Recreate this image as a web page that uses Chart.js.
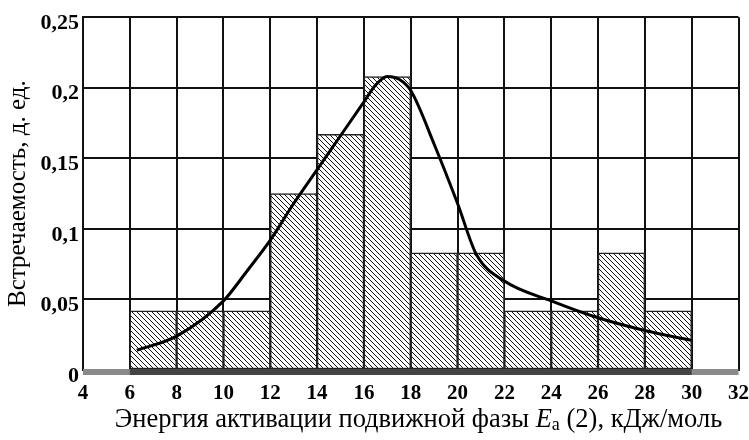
<!DOCTYPE html>
<html>
<head>
<meta charset="utf-8">
<script src="https://cdn.jsdelivr.net/npm/chart.js@4.4.1/dist/chart.umd.min.js"></script>
<style>
  body { margin: 0; background: #fff; overflow: hidden; }
  #wrap { position: relative; width: 749px; height: 440px; overflow: hidden; }
  #xTitle {
    position: absolute; top: 403px; left: 0; width: 749px;
    padding-left: 88px; box-sizing: border-box;
    text-align: center; white-space: nowrap;
    font-family: "Liberation Serif", serif; font-size: 26.5px; color: #000;
  }
  #xTitle sub { font-size: 18px; vertical-align: -3px; line-height: 0; }
</style>
</head>
<body>
<div id="wrap">
  <!-- canvas is a bit wider than the window so the "32" label can run off the edge like in the original -->
  <canvas id="histChart" width="760" height="440"></canvas>
  <div id="xTitle">Энергия активации подвижной фазы <i>E</i><sub>а</sub> (2), кДж/моль</div>
</div>
<script>
// histogram bins (left edges, width 2 kJ/mol) and frequencies
const binStart = [6, 8, 10, 12, 14, 16, 18, 20, 22, 24, 26, 28];
const binWidth = 2;
const freq = [0.042, 0.042, 0.042, 0.125, 0.167, 0.208, 0.083, 0.083, 0.042, 0.042, 0.083, 0.042];

// smooth distribution curve
const curveX = [6.3, 8, 10, 11, 12, 13, 14, 15, 16, 16.5, 17, 17.5, 18, 19, 20, 20.8, 22, 24, 26, 28, 30];
const curveY = [0.014, 0.024, 0.049, 0.07, 0.092, 0.118, 0.142, 0.166, 0.19, 0.202, 0.208, 0.206, 0.198, 0.16, 0.118, 0.082, 0.063, 0.049, 0.037, 0.028, 0.021];

// axis ranges
const xMin = 4, xMax = 32, xStep = 2;
const yMin = 0, yMax = 0.25, yStep = 0.05;

const serif = "'Liberation Serif', 'Times New Roman', serif";

function hatchPattern() {
    const s = 5;
    const c = document.createElement("canvas");
    c.width = s; c.height = s;
    const g = c.getContext("2d");
    g.fillStyle = "#fff";
    g.fillRect(0, 0, s, s);
    g.strokeStyle = "#111";
    g.lineWidth = 1;
    g.beginPath();
    g.moveTo(0, 0); g.lineTo(s, s);
    g.moveTo(s - 1, -1); g.lineTo(s + 1, 1);
    g.moveTo(-1, s - 1); g.lineTo(1, s + 1);
    g.stroke();
    return g.createPattern(c, "repeat");
}

// gray strip along the bottom axis, darker under the bars
const baseStrip = {
    id: "baseStrip",
    afterDraw(chart) {
        const { ctx, chartArea, scales } = chart;
        const x = scales.x;
        const y0 = chartArea.bottom - 1;
        ctx.save();
        ctx.fillStyle = "#8a8a8a";
        ctx.fillRect(x.getPixelForValue(xMin), y0, x.getPixelForValue(xMax) - x.getPixelForValue(xMin), 6);
        const a = x.getPixelForValue(binStart[0]);
        const b = x.getPixelForValue(binStart[binStart.length - 1] + binWidth);
        ctx.fillStyle = "#444";
        ctx.fillRect(a, y0, b - a, 6);
        ctx.restore();
    }
};

new Chart(document.getElementById("histChart"), {
    type: "bar",
    data: {
        datasets: [{
            type: "line",
            data: curveX.map((v, i) => ({ x: v, y: curveY[i] })),
            borderColor: "#000",
            borderWidth: 3,
            pointRadius: 0,
            cubicInterpolationMode: "monotone",
            fill: false,
            order: 0
        }, {
            type: "bar",
            data: binStart.map((v, i) => ({ x: v + binWidth / 2, y: freq[i] })),
            backgroundColor: hatchPattern(),
            borderColor: "#222",
            borderWidth: 1.5,
            borderSkipped: false,
            barPercentage: 1,
            categoryPercentage: 1,
            order: 1
        }]
    },
    options: {
        responsive: false,
        animation: false,
        layout: { padding: { top: 14, right: 0, left: 0, bottom: 0 } },
        plugins: { legend: { display: false }, tooltip: { enabled: false } },
        scales: {
            x: {
                type: "linear",
                min: xMin,
                max: xMax,
                offset: false,
                afterFit: s => { s.height = 70; },
                ticks: {
                    stepSize: xStep,
                    padding: 11,
                    color: "#000",
                    font: { family: serif, size: 21, weight: "bold" }
                },
                grid: { color: "#111", lineWidth: 2, drawTicks: false, offset: false },
                border: { color: "#111", width: 2 }
            },
            y: {
                min: yMin,
                max: yMax,
                afterFit: s => { s.width = 83; },
                ticks: {
                    stepSize: yStep,
                    padding: 4,
                    labelOffset: 6,
                    color: "#000",
                    font: { family: serif, size: 22, weight: "bold" },
                    callback: v => String(Math.round(v * 100) / 100).replace(".", ",")
                },
                grid: { color: "#111", lineWidth: 2, drawTicks: false },
                border: { color: "#111", width: 2 },
                title: {
                    display: true,
                    text: "Встречаемость, д. ед.",
                    color: "#000",
                    padding: { top: 3, bottom: 0 },
                    font: { family: serif, size: 25, weight: "normal" }
                }
            }
        }
    },
    plugins: [baseStrip]
});
</script>
</body>
</html>
